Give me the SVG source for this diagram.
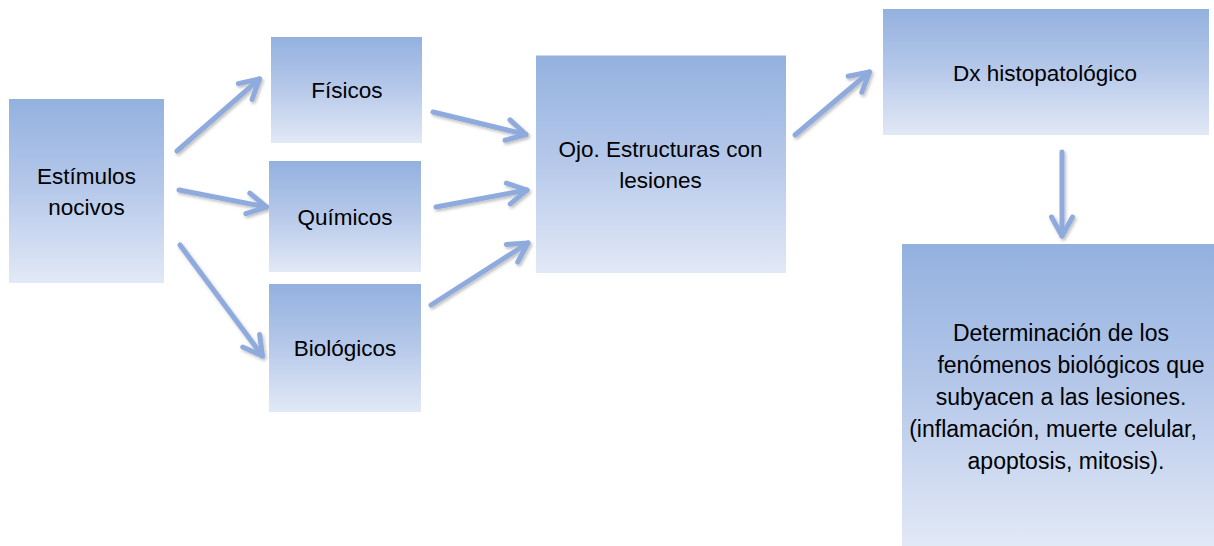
<svg xmlns="http://www.w3.org/2000/svg" width="1214" height="546" viewBox="0 0 1214 546">
<defs>
<linearGradient id="g" x1="0" y1="0" x2="0" y2="1">
<stop offset="0" stop-color="#93B1DF"/>
<stop offset="0.5" stop-color="#B7C9EA"/>
<stop offset="1" stop-color="#E2E9F6"/>
</linearGradient>
<filter id="sh" filterUnits="userSpaceOnUse" x="0" y="0" width="1214" height="546">
<feDropShadow dx="1.5" dy="2" stdDeviation="1.5" flood-color="#000" flood-opacity="0.25"/>
</filter>
<marker id="ah" markerUnits="userSpaceOnUse" viewBox="-26 -15 30 30" refX="0" refY="0" markerWidth="30" markerHeight="30" orient="auto">
<path d="M-19,-10.5 L0,0 L-19,10.5" fill="none" stroke="#8FAADC" stroke-width="5" stroke-linecap="round" stroke-linejoin="round"/>
</marker>
</defs>
<style>
.box{fill:url(#g);}
.t{font-family:"Liberation Sans",Arial,sans-serif;font-size:22.5px;fill:#000;text-anchor:middle;}
.d{font-size:23px;}
.c{stroke:#8FAADC;stroke-width:5;stroke-linecap:round;fill:none;marker-end:url(#ah);filter:url(#sh);}
</style>
<rect width="1214" height="546" fill="#fff"/>
<g id="connectors">
<line class="c" x1="177" y1="151" x2="259.5" y2="79"/>
<line class="c" x1="179" y1="190" x2="266.5" y2="207"/>
<line class="c" x1="180" y1="245" x2="262.5" y2="356"/>
<line class="c" x1="433" y1="112" x2="526" y2="134.5"/>
<line class="c" x1="436" y1="207" x2="527" y2="190"/>
<line class="c" x1="431" y1="305" x2="528" y2="243"/>
<line class="c" x1="795" y1="135" x2="869.5" y2="72"/>
<line class="c" x1="1062" y1="152" x2="1062" y2="236"/>
</g>
<g id="estimulos">
<rect class="box" x="9" y="99" width="155" height="184"/>
<text class="t" x="86.5" y="184">Estímulos</text>
<text class="t" x="86.5" y="215">nocivos</text>
</g>
<g id="fisicos">
<rect class="box" x="271" y="37" width="151" height="106"/>
<text class="t" x="347" y="98">Físicos</text>
</g>
<g id="quimicos">
<rect class="box" x="269" y="161" width="152" height="111"/>
<text class="t" x="345" y="225">Químicos</text>
</g>
<g id="biologicos">
<rect class="box" x="269" y="284" width="152" height="128"/>
<text class="t" x="345" y="356">Biológicos</text>
</g>
<g id="ojo">
<rect class="box" x="536" y="55.5" width="250" height="217.5"/>
<text class="t" x="660.5" y="157">Ojo. Estructuras con</text>
<text class="t" x="660.5" y="188">lesiones</text>
</g>
<g id="dx">
<rect class="box" x="883" y="9" width="326" height="126"/>
<text class="t" x="1045" y="81">Dx histopatológico</text>
</g>
<g id="determinacion">
<rect class="box" x="902" y="244" width="312" height="302"/>
<text class="t d" x="1061" y="341">Determinación de los</text>
<text class="t d" x="1071" y="373">fenómenos biológicos que</text>
<text class="t d" x="1061" y="405">subyacen a las lesiones.</text>
<text class="t d" x="1053" y="437">(inflamación, muerte celular,</text>
<text class="t d" x="1066" y="469">apoptosis, mitosis).</text>
</g>
</svg>
